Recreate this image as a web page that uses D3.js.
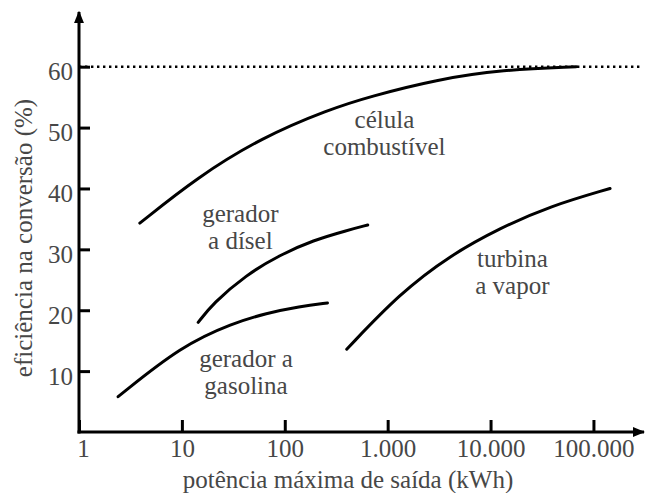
<!DOCTYPE html>
<html>
<head>
<meta charset="utf-8">
<script src="https://cdn.jsdelivr.net/npm/d3@7"></script>
<style>
  body { margin: 0; background: #fff; }
  svg text { font-family: "Liberation Serif", "Times New Roman", serif; fill: #474747; }
</style>
</head>
<body>
<svg id="chart"></svg>
<script>
var screen = {width: 646, height: 493}

// data: [potencia kWh, eficiencia %]
var celulaCombustivel = [[3.9, 34.3], [14, 41.8], [60, 48.4], [270, 53], [670, 55.1], [3000, 57.9], [13000, 59.5], [68000, 60]]
var geradorDisel = [[14.4, 18], [20, 21.1], [42, 25.8], [90, 29.1], [190, 31.5], [400, 33.1], [640, 34]]
var geradorGasolina = [[2.4, 5.8], [10, 14.2], [31.6, 17.9], [66, 19.5], [140, 20.6], [260, 21.2]]
var turbinaVapor = [[400, 13.6], [1320, 22.8], [4030, 29], [12400, 33.5], [37800, 37.1], [145000, 40]]

var xTicks = [1, 10, 100, 1000, 10000, 100000]
var yTicks = [10, 20, 30, 40, 50, 60]
var limite = 60

var labels = [
    {lines: ["célula", "combustível"], at: [930, 49.9]},
    {lines: ["gerador", "a dísel"], at: [37, 34.5]},
    {lines: ["gerador a", "gasolina"], at: [42, 10.7]},
    {lines: ["turbina", "a vapor"], at: [16300, 27.1]}
]

var svg = d3.select("#chart")
    .attr("width", screen.width)
    .attr("height", screen.height)

var xScale = d3.scaleLog()
    .domain([1, 3.1e5])
    .range([79, 644])

var yScale = d3.scaleLinear()
    .domain([0, 60])
    .range([432, 66.7])

var ptBR = d3.formatLocale({decimal: ",", thousands: ".", grouping: [3], currency: ["", ""]})

// arrow heads
var defs = svg.append("defs")
defs.append("marker")
    .attr("id", "arrow")
    .attr("viewBox", "0 0 10 10")
    .attr("refX", 9).attr("refY", 5)
    .attr("markerWidth", 4.2).attr("markerHeight", 4.2)
    .attr("orient", "auto")
    .append("path")
    .attr("d", "M0,1 L10,5 L0,9 Z")
    .attr("fill", "#000")

// dotted 60% line
svg.append("line")
    .attr("x1", xScale(1)).attr("x2", 640)
    .attr("y1", yScale(limite)).attr("y2", yScale(limite))
    .attr("stroke", "#000")
    .attr("stroke-width", 2.6)
    .attr("stroke-dasharray", "2.4,3.6")

// axes
var xAxis = d3.axisBottom(xScale)
    .tickValues(xTicks)
    .tickFormat(ptBR.format(","))
    .tickSizeInner(-12)
    .tickSizeOuter(0)
    .tickPadding(7)

var yAxis = d3.axisLeft(yScale)
    .tickValues(yTicks)
    .tickSizeInner(-11)
    .tickSizeOuter(0)
    .tickPadding(6)

var gx = svg.append("g")
    .attr("transform", "translate(0," + yScale(0) + ")")
    .call(xAxis)
gx.select(".domain").remove()
gx.selectAll("line").attr("stroke", "#000").attr("stroke-width", 3)
gx.selectAll("text")
    .attr("font-size", 25)
    .attr("dx", function(d) { return d == 1 ? 4 : 0 })
    .attr("fill", "#474747")

var gy = svg.append("g")
    .attr("transform", "translate(" + xScale(1) + ",0)")
    .call(yAxis)
gy.select(".domain").remove()
gy.selectAll("line").attr("stroke", "#000").attr("stroke-width", 3)
gy.selectAll("text")
    .attr("font-size", 25)
    .attr("dy", "0.53em")
    .attr("fill", "#474747")

// axis lines with arrows
svg.append("line")
    .attr("x1", xScale(1)).attr("x2", xScale(1))
    .attr("y1", yScale(0) + 1.5).attr("y2", yScale(69))
    .attr("stroke", "#000").attr("stroke-width", 3)
    .attr("marker-end", "url(#arrow)")

svg.append("line")
    .attr("x1", xScale(1) - 1.5).attr("x2", xScale(3.1e5))
    .attr("y1", yScale(0)).attr("y2", yScale(0))
    .attr("stroke", "#000").attr("stroke-width", 3)
    .attr("marker-end", "url(#arrow)")

// curves (smoothed through the read points)
var line = d3.line()
    .x(function(d) { return xScale(d[0]) })
    .y(function(d) { return yScale(d[1]) })
    .curve(d3.curveBasis)

svg.selectAll(".curve")
    .data([celulaCombustivel, geradorDisel, geradorGasolina, turbinaVapor])
    .enter()
    .append("path")
    .attr("class", "curve")
    .attr("d", line)
    .attr("fill", "none")
    .attr("stroke", "#000")
    .attr("stroke-width", 3)
    .attr("stroke-linecap", "round")

// curve labels
labels.forEach(function(l) {
    var t = svg.append("text")
        .attr("x", xScale(l.at[0]))
        .attr("y", yScale(l.at[1]))
        .attr("text-anchor", "middle")
        .attr("font-size", 25)
    l.lines.forEach(function(s, i) {
        t.append("tspan")
            .attr("x", xScale(l.at[0]))
            .attr("dy", i == 0 ? 0 : 27)
            .text(s)
    })
})

// axis titles
svg.append("text")
    .attr("x", 348)
    .attr("y", 488)
    .attr("text-anchor", "middle")
    .attr("font-size", 25)
    .text("potência máxima de saída (kWh)")

svg.append("text")
    .attr("transform", "translate(32,238) rotate(-90)")
    .attr("text-anchor", "middle")
    .attr("font-size", 25)
    .text("eficiência na conversão (%)")
</script>
</body>
</html>
